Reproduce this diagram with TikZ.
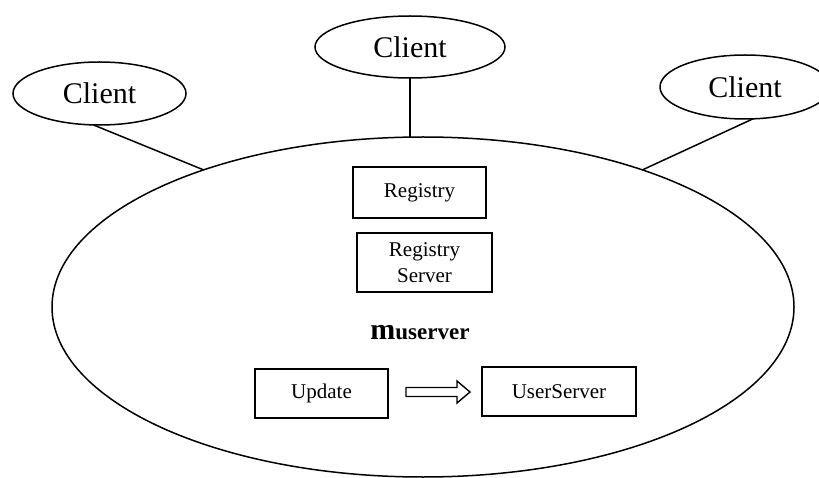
\documentclass[tikz,border=0pt]{standalone}
\usepackage{fontspec}
\setmainfont{Liberation Serif}
\usetikzlibrary{shapes.geometric,calc}

\tikzset{
  line/.style={line width=1.5pt, draw=black},
  oval/.style={ellipse, line, inner sep=0pt, outer sep=0pt},
  client/.style={oval, font=\fontsize{30}{30}\selectfont},
  module/.style={rectangle, line, inner sep=0pt, outer sep=0pt,
                 align=center, font=\fontsize{21}{26}\selectfont},
  link/.style={line},
}

\begin{document}
\begin{tikzpicture}[x=1pt, y=-1pt]
  \useasboundingbox (0,0) rectangle (819,478);

  % the server and its clients
  \node[oval, minimum width=742pt, minimum height=340pt] (big) at (423,307) {};
  \node[client, minimum width=190pt, minimum height=62pt] (tc) at (410,47) {Client};
  \node[client, minimum width=173pt, minimum height=63pt] (lc) at (99.5,93.5) {Client};
  \node[client, minimum width=170pt, minimum height=64pt] (rc) at (745,87) {Client};

  \draw[link] (tc.south) -- (tc.south |- big.north);
  \draw[link] (lc.259) -- (big.148.6);
  \draw[link] (rc.284) -- (big.32.4);

  % components inside the server
  \node[module, minimum width=133pt, minimum height=51pt] (reg) at (419.5,192.5) {Registry};
  \node[module, minimum width=135pt, minimum height=59pt] (regsrv) at (424.5,262.5) {Registry\\Server};
  \node (name) at (420,333) {{\fontsize{30}{30}\selectfont\bfseries m}{\fontsize{23}{23}\selectfont\bfseries userver}};
  \node[module, minimum width=133pt, minimum height=49pt] (upd) at (321.5,393.5) {Update};
  \node[module, minimum width=154pt, minimum height=49pt] (usr) at (559,391.5) {UserServer};

  % hollow block arrow from Update to UserServer
  \coordinate (ab) at ([xshift=18pt]upd.east |- 0,392);
  \coordinate (ae) at ([xshift=-12pt]usr.west |- 0,392);
  \draw[line width=1.4pt, line join=miter]
    ($(ab)+(0,-4.5)$) -- ($(ae)+(-13,-4.5)$) -- ($(ae)+(-13,-11)$) -- (ae)
    -- ($(ae)+(-13,11)$) -- ($(ae)+(-13,4.5)$) -- ($(ab)+(0,4.5)$) -- cycle;
\end{tikzpicture}
\end{document}
